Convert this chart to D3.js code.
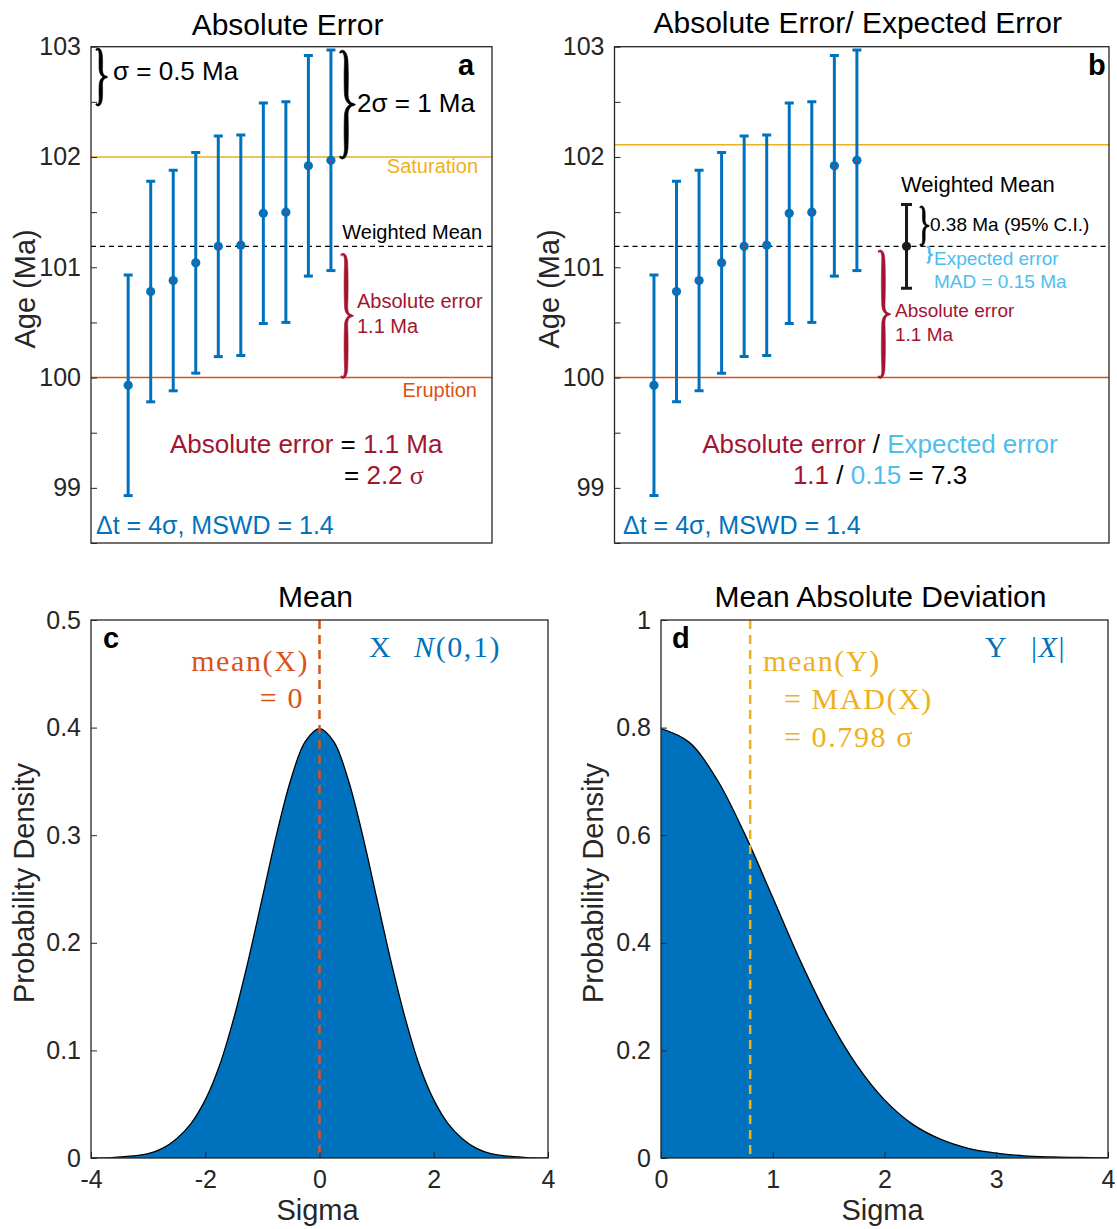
<!DOCTYPE html>
<html>
<head>
<meta charset="utf-8">
<script src="https://cdn.jsdelivr.net/npm/d3@7"></script>
<style>
  body { margin: 0; background: #fff; }
  svg text { font-family: "Liberation Sans", Arial, sans-serif; fill: #262626; }
  svg text.serif, svg tspan.serif { font-family: "Liberation Serif", "DejaVu Serif", serif; letter-spacing: 1.6px; }
</style>
</head>
<body>
<svg width="1117" height="1229"></svg>
<script>
// ---- data ----
const grainIndex = [1, 2, 3, 4, 5, 6, 7, 8, 9, 10];
const grainAges = [99.93, 100.78, 100.88, 101.04, 101.19, 101.20, 101.49, 101.50, 101.92, 101.97];
const grainErr = [1, 1, 1, 1, 1, 1, 1, 1, 1, 1];
const weightedMean = 101.19;
const weightedMeanCI = 0.38;
const expectedErr = 0.15;
const eruptionAge = 100;
const saturationA = 102;
const saturationB = 102.11;
const ageTicks = [98.5, 99, 99.5, 100, 100.5, 101, 101.5, 102, 102.5, 103];

const sigmaC = [-4, -3.75, -3.5, -3.25, -3, -2.75, -2.5, -2.25, -2, -1.75, -1.5, -1.25, -1, -0.75, -0.5, -0.25,
  0, 0.25, 0.5, 0.75, 1, 1.25, 1.5, 1.75, 2, 2.25, 2.5, 2.75, 3, 3.25, 3.5, 3.75, 4];
const densC = [0.000, 0.000, 0.001, 0.002, 0.004, 0.009, 0.018, 0.032, 0.054, 0.086, 0.130, 0.183, 0.242, 0.301, 0.352, 0.387,
  0.399, 0.387, 0.352, 0.301, 0.242, 0.183, 0.130, 0.086, 0.054, 0.032, 0.018, 0.009, 0.004, 0.002, 0.001, 0.000, 0.000];
const sigmaD = [0, 0.25, 0.5, 0.75, 1, 1.25, 1.5, 1.75, 2, 2.25, 2.5, 2.75, 3, 3.25, 3.5, 3.75, 4];
const densD = [0.798, 0.773, 0.704, 0.602, 0.484, 0.365, 0.259, 0.173, 0.108, 0.063, 0.035, 0.018, 0.009, 0.004, 0.002, 0.001, 0.000];
const meanX = 0;
const madX = 0.798;

const xTicksC = [-4, -2, 0, 2, 4];
const yTicksC = [0, 0.1, 0.2, 0.3, 0.4, 0.5];
const xTicksD = [0, 1, 2, 3, 4];
const yTicksD = [0, 0.2, 0.4, 0.6, 0.8, 1];

const col = { blue: "#0072BD", orange: "#D95319", yellow: "#EDB120", crimson: "#A2142F", sky: "#4DBEEE", ink: "#262626" };

const svg = d3.select("svg");

const makePanel = (id, box, xDomain, yDomain) => {
  const x = d3.scaleLinear().domain(xDomain).range([box.left, box.right]);
  const y = d3.scaleLinear().domain(yDomain).range([box.bottom, box.top]);
  const g = svg.append("g").attr("class", "panel-" + id);
  svg.append("clipPath").attr("id", "clip-" + id)
    .append("rect").attr("x", box.left).attr("y", box.top)
    .attr("width", box.right - box.left).attr("height", box.bottom - box.top);
  const plot = g.append("g").attr("clip-path", "url(#clip-" + id + ")");
  return { x, y, g, plot, box };
};

const drawFrame = (p) => {
  p.g.append("rect")
    .attr("x", p.box.left).attr("y", p.box.top)
    .attr("width", p.box.right - p.box.left).attr("height", p.box.bottom - p.box.top)
    .attr("fill", "none").attr("stroke", col.ink).attr("stroke-width", 1.3);
};

const yAxis = (p, ticks, fmt) => {
  const ax = p.g.append("g")
    .attr("transform", "translate(" + p.box.left + ",0)")
    .call(d3.axisLeft(p.y).tickValues(ticks).tickSize(-6).tickSizeOuter(0).tickPadding(10).tickFormat(fmt));
  ax.select(".domain").remove();
  ax.selectAll("line").attr("stroke", col.ink);
  ax.selectAll("text").attr("font-size", 25).attr("font-family", null).attr("fill", col.ink);
};

const xAxis = (p, ticks) => {
  const ax = p.g.append("g")
    .attr("transform", "translate(0," + p.box.bottom + ")")
    .call(d3.axisBottom(p.x).tickValues(ticks).tickSize(-6).tickSizeOuter(0).tickPadding(12).tickFormat(d => String(d)));
  ax.select(".domain").remove();
  ax.selectAll("line").attr("stroke", col.ink);
  ax.selectAll("text").attr("font-size", 25).attr("font-family", null).attr("fill", col.ink);
};

const title = (p, txt, dy) => {
  p.g.append("text")
    .attr("x", (p.box.left + p.box.right) / 2 - 4).attr("y", p.box.top - (dy || 12))
    .attr("text-anchor", "middle").attr("font-size", 30).style("fill", "#000")
    .text(txt);
};

const yLabel = (p, txt, bx) => {
  p.g.append("text")
    .attr("transform", "translate(" + bx + "," + ((p.box.top + p.box.bottom) / 2 - 6) + ") rotate(-90)")
    .attr("text-anchor", "middle").attr("font-size", 29).style("fill", col.ink)
    .text(txt);
};

const xLabel = (p, txt) => {
  p.g.append("text")
    .attr("x", (p.box.left + p.box.right) / 2 - 2).attr("y", p.box.bottom + 62)
    .attr("text-anchor", "middle").attr("font-size", 29).style("fill", col.ink)
    .text(txt);
};

const panelLetter = (p, txt, px, py) => {
  p.g.append("text").attr("x", px).attr("y", py)
    .attr("font-size", 29).attr("font-weight", "bold").style("fill", "#000").text(txt);
};

// parts: [text, colour, className, italic]
const richText = (g, px, py, size, parts, anchor) => {
  const t = g.append("text").attr("x", px).attr("y", py).attr("font-size", size)
    .attr("text-anchor", anchor || "start").attr("xml:space", "preserve");
  parts.forEach(([s, c, cls, italic]) => {
    const ts = t.append("tspan").text(s).style("fill", c);
    if (cls) ts.attr("class", cls);
    if (italic) ts.attr("font-style", "italic");
  });
  return t;
};

// centre line of a right facing curly brace (TeX-like): hooks at the ends, tip in the middle
const braceCentre = (x0, yTop, yBot, depth) => {
  const ym = (yTop + yBot) / 2;
  const a = x0 + depth * 0.42;
  const r = Math.min(depth * 0.8, (yBot - yTop) / 5);
  return "M" + x0 + "," + (yTop + r * 0.15) +
    "C" + (x0 + depth * 0.15) + "," + (yTop - r * 0.15) + " " + a + "," + yTop + " " + a + "," + (yTop + r) +
    "L" + a + "," + (ym - r) +
    "C" + a + "," + (ym - r * 0.2) + " " + (x0 + depth * 0.7) + "," + ym + " " + (x0 + depth) + "," + ym +
    "C" + (x0 + depth * 0.7) + "," + ym + " " + a + "," + (ym + r * 0.2) + " " + a + "," + (ym + r) +
    "L" + a + "," + (yBot - r) +
    "C" + a + "," + yBot + " " + (x0 + depth * 0.15) + "," + (yBot + r * 0.15) + " " + x0 + "," + (yBot - r * 0.15);
};

// tapered filled brace: thick along the arms, thin at ends and tip
const brace = (p, xv, v0, v1, depth, color, w) => {
  const tmp = p.g.append("path").attr("d", braceCentre(p.x(xv), p.y(v0), p.y(v1), depth));
  const node = tmp.node();
  const L = node.getTotalLength();
  const n = 120;
  const pts = d3.range(n + 1).map(i => node.getPointAtLength(L * i / n));
  const left = [], right = [];
  pts.forEach((pt, i) => {
    const a = pts[Math.max(0, i - 1)], b = pts[Math.min(n, i + 1)];
    let dx = b.x - a.x, dy = b.y - a.y;
    const len = Math.hypot(dx, dy) || 1;
    dx /= len; dy /= len;
    const u = i / n;
    const v = u < 0.5 ? u / 0.5 : (1 - u) / 0.5;
    const t = w * (0.3 + 0.7 * Math.pow(Math.sin(Math.PI * v), 0.6)) / 2;
    left.push([pt.x - dy * t, pt.y + dx * t]);
    right.push([pt.x + dy * t, pt.y - dx * t]);
  });
  tmp.remove();
  p.g.append("path")
    .attr("d", d3.line()(left.concat(right.reverse())) + "Z")
    .attr("fill", color).attr("stroke", color).attr("stroke-width", 0.6).attr("stroke-linejoin", "round");
};

const hLine = (p, v, color, dash, w) => {
  p.plot.append("line")
    .attr("x1", p.box.left).attr("x2", p.box.right)
    .attr("y1", p.y(v)).attr("y2", p.y(v))
    .attr("stroke", color).attr("stroke-width", w || 1.5)
    .attr("stroke-dasharray", dash || null);
};

const errorBars = (p, xs, ys, es, color, capHalf) => {
  const rows = xs.map((xv, i) => ({ xv, yv: ys[i], e: es[i] }));
  const eb = p.plot.append("g").selectAll("g").data(rows).enter().append("g");
  eb.append("line")
    .attr("x1", d => p.x(d.xv)).attr("x2", d => p.x(d.xv))
    .attr("y1", d => p.y(d.yv - d.e)).attr("y2", d => p.y(d.yv + d.e))
    .attr("stroke", color).attr("stroke-width", 3);
  [-1, 1].forEach(s => {
    eb.append("line")
      .attr("x1", d => p.x(d.xv) - capHalf).attr("x2", d => p.x(d.xv) + capHalf)
      .attr("y1", d => p.y(d.yv + s * d.e)).attr("y2", d => p.y(d.yv + s * d.e))
      .attr("stroke", color).attr("stroke-width", 3);
  });
  eb.append("circle").attr("cx", d => p.x(d.xv)).attr("cy", d => p.y(d.yv)).attr("r", 4.6).attr("fill", color);
  return eb;
};

// ---------- panel a ----------
const pa = makePanel("a", { left: 91, right: 492, top: 46.7, bottom: 543 }, [-0.65, 17.15], [98.5, 103]);
hLine(pa, saturationA, col.yellow, null, 1.5);
hLine(pa, eruptionAge, col.orange, null, 1.5);
hLine(pa, weightedMean, "#000", "5,4", 1.3);
errorBars(pa, grainIndex, grainAges, grainErr, col.blue, 4.5)
  .append("circle").attr("cx", d => pa.x(d.xv)).attr("cy", d => pa.y(d.yv)).attr("r", 0.9).attr("fill", "#ff2020");
yAxis(pa, ageTicks, d => Number.isInteger(d) ? String(d) : "");
drawFrame(pa);
title(pa, "Absolute Error", 12);
yLabel(pa, "Age (Ma)", 35);
panelLetter(pa, "a", 458, 75);

brace(pa, -0.42, 102.98, 102.47, 11, "#000", 3.6);
richText(pa.g, 113, 80, 26, [["σ = 0.5 Ma", "#000"]]);
brace(pa, 10.4, 102.96, 101.99, 15, "#000", 4.2);
richText(pa.g, 357, 112, 26, [["2σ = 1 Ma", "#000"]]);
richText(pa.g, 478, 173, 20, [["Saturation", col.yellow]], "end");
richText(pa.g, 482, 239, 20, [["Weighted Mean", "#000"]], "end");
brace(pa, 10.45, 101.12, eruptionAge, 12, col.crimson, 4);
richText(pa.g, 357, 308, 20, [["Absolute error", col.crimson]]);
richText(pa.g, 357, 333, 20, [["1.1 Ma", col.crimson]]);
richText(pa.g, 477, 397, 20, [["Eruption", col.orange]], "end");
richText(pa.g, 170, 453, 26, [["Absolute error", col.crimson], [" = ", "#000"], ["1.1 Ma", col.crimson]]);
richText(pa.g, 344, 484, 26, [["= ", "#000"], ["2.2 ", col.crimson], ["σ", col.crimson, "serif"]]);
richText(pa.g, 96, 534, 25, [["Δt = 4σ, MSWD = 1.4", col.blue]]);

// ---------- panel b ----------
const pb = makePanel("b", { left: 614.5, right: 1109, top: 46.7, bottom: 543 }, [-0.75, 21.18], [98.5, 103]);
hLine(pb, saturationB, col.yellow, null, 1.5);
hLine(pb, eruptionAge, col.orange, null, 1.5);
hLine(pb, weightedMean, "#000", "5,4", 1.3);
errorBars(pb, grainIndex, grainAges, grainErr, col.blue, 4.5)
  .append("circle").attr("cx", d => pb.x(d.xv)).attr("cy", d => pb.y(d.yv)).attr("r", 0.9).attr("fill", "#ff2020");
errorBars(pb, [12.2], [weightedMean], [weightedMeanCI], "#1a1a1a", 5.5);
yAxis(pb, ageTicks, d => Number.isInteger(d) ? String(d) : "");
drawFrame(pb);
title(pb, "Absolute Error/ Expected Error", 14);
yLabel(pb, "Age (Ma)", 559);
panelLetter(pb, "b", 1088, 75);

richText(pb.g, 901, 192, 22, [["Weighted Mean", "#000"]]);
brace(pb, 12.8, weightedMean + weightedMeanCI - 0.02, weightedMean + 0.01, 9, "#000", 2.8);
richText(pb.g, 930, 231, 19, [["0.38 Ma (95% C.I.)", "#000"]]);
brace(pb, 13.1, weightedMean - 0.005, weightedMean - expectedErr, 6, col.sky, 2);
richText(pb.g, 934, 265, 19, [["Expected error", col.sky]]);
richText(pb.g, 934, 288, 19, [["MAD = 0.15 Ma", col.sky]]);
brace(pb, 10.95, 101.15, eruptionAge, 12, col.crimson, 4);
richText(pb.g, 895, 317, 19, [["Absolute error", col.crimson]]);
richText(pb.g, 895, 341, 19, [["1.1 Ma", col.crimson]]);
richText(pb.g, 880, 453, 26, [["Absolute error", col.crimson], [" / ", "#000"], ["Expected error", col.sky]], "middle");
richText(pb.g, 880, 484, 26, [["1.1", col.crimson], [" / ", "#000"], ["0.15", col.sky], [" = 7.3", "#000"]], "middle");
richText(pb.g, 623, 534, 25, [["Δt = 4σ, MSWD = 1.4", col.blue]]);

// ---------- panel c ----------
const pc = makePanel("c", { left: 91, right: 548, top: 620, bottom: 1158 }, [-4, 4], [0, 0.5]);
const rowsC = sigmaC.map((s, i) => ({ s, d: densC[i] }));
pc.plot.append("path").datum(rowsC)
  .attr("d", d3.area().x(r => pc.x(r.s)).y0(pc.y(0)).y1(r => pc.y(r.d)).curve(d3.curveCatmullRom))
  .attr("fill", col.blue);
pc.plot.append("path").datum(rowsC)
  .attr("d", d3.line().x(r => pc.x(r.s)).y(r => pc.y(r.d)).curve(d3.curveCatmullRom))
  .attr("fill", "none").attr("stroke", "#000").attr("stroke-width", 1.3);
pc.plot.append("line")
  .attr("x1", pc.x(meanX)).attr("x2", pc.x(meanX)).attr("y1", pc.box.top).attr("y2", pc.box.bottom)
  .attr("stroke", col.orange).attr("stroke-width", 2.5).attr("stroke-dasharray", "9,6");
yAxis(pc, yTicksC, d => String(d));
xAxis(pc, xTicksC);
drawFrame(pc);
title(pc, "Mean", 13);
yLabel(pc, "Probability Density", 34);
xLabel(pc, "Sigma");
panelLetter(pc, "c", 103, 648);
richText(pc.g, 309, 671, 30, [["mean(X)", col.orange, "serif"]], "end");
richText(pc.g, 304, 708, 30, [["= 0", col.orange, "serif"]], "end");
richText(pc.g, 369, 657, 30, [["X", col.blue, "serif"]]);
richText(pc.g, 414, 657, 30, [["N", col.blue, "serif", true], ["(0,1)", col.blue, "serif"]]);

// ---------- panel d ----------
const pd = makePanel("d", { left: 661, right: 1108, top: 620, bottom: 1158 }, [0, 4], [0, 1]);
const rowsD = sigmaD.map((s, i) => ({ s, d: densD[i] }));
pd.plot.append("path").datum(rowsD)
  .attr("d", d3.area().x(r => pd.x(r.s)).y0(pd.y(0)).y1(r => pd.y(r.d)).curve(d3.curveCatmullRom))
  .attr("fill", col.blue);
pd.plot.append("path").datum(rowsD)
  .attr("d", d3.line().x(r => pd.x(r.s)).y(r => pd.y(r.d)).curve(d3.curveCatmullRom))
  .attr("fill", "none").attr("stroke", "#000").attr("stroke-width", 1.3);
pd.plot.append("line")
  .attr("x1", pd.x(madX)).attr("x2", pd.x(madX)).attr("y1", pd.box.top).attr("y2", pd.box.bottom)
  .attr("stroke", col.yellow).attr("stroke-width", 2.5).attr("stroke-dasharray", "9,6");
yAxis(pd, yTicksD, d => String(d));
xAxis(pd, xTicksD);
drawFrame(pd);
title(pd, "Mean Absolute Deviation", 13);
yLabel(pd, "Probability Density", 603);
xLabel(pd, "Sigma");
panelLetter(pd, "d", 672, 648);
richText(pd.g, 763, 671, 30, [["mean(Y)", col.yellow, "serif"]]);
richText(pd.g, 784, 709, 30, [["= MAD(X)", col.yellow, "serif"]]);
richText(pd.g, 784, 747, 30, [["= 0.798 σ", col.yellow, "serif"]]);
richText(pd.g, 985, 657, 30, [["Y", col.blue, "serif"]]);
richText(pd.g, 1031, 657, 30, [["|", col.blue, "serif"], ["X", col.blue, "serif", true], ["|", col.blue, "serif"]]);
</script>
</body>
</html>
